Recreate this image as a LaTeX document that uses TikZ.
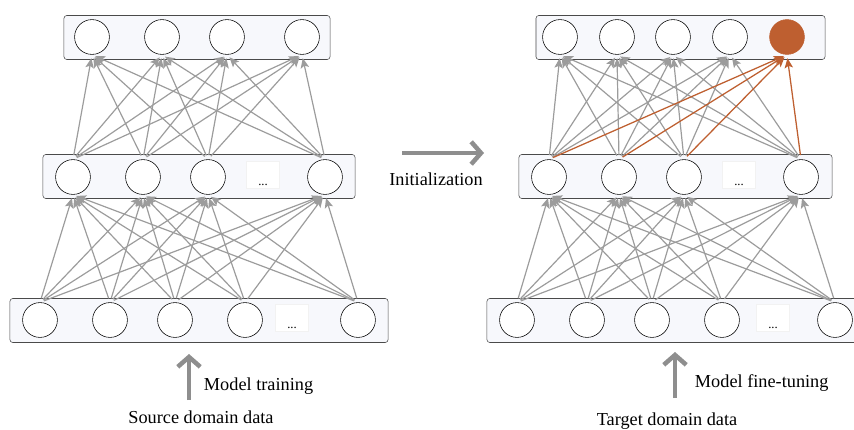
\documentclass[tikz,border=0pt]{standalone}
\usepackage{fontspec}
\setmainfont{Liberation Serif}
\usetikzlibrary{arrows.meta}
\definecolor{edgegray}{HTML}{9C9C9C}
\definecolor{arrowgray}{HTML}{8E8E8E}
\definecolor{boxline}{HTML}{4A4A4A}
\definecolor{boxfill}{HTML}{F7F8FC}
\definecolor{accent}{HTML}{BE5F30}

\begin{document}
\begin{tikzpicture}[x=0.025cm, y=-0.025cm, font=\fontsize{13}{15}\selectfont,
    layer/.style = {draw=boxline, fill=boxfill, rounded corners=2pt, minimum height=1.1cm, inner sep=0pt},
    unit/.style = {draw, circle, fill=white, minimum size=0.87cm, inner sep=0pt},
    gap/.style = {draw=black!5, fill=white, minimum width=0.82cm, text height=15pt, text depth=0pt, inner sep=2pt, font=\small},
    link/.style = {edgegray, line width=0.85pt, -{Stealth[length=7pt, width=6pt, inset=1.5pt]}, shorten <=3pt, shorten >=2.5pt},
    hot/.style = {link, accent, line width=0.9pt},
    bigarrow/.style = {arrowgray, line width=3.2pt, -{Straight Barb[length=7pt, width=16pt]}}]
    \clip (0,0) rectangle (854,429);

    \node[layer, minimum width=6.65cm] (ltop) at (197,37.5) {};
    \node[layer, minimum width=7.8cm] (lmid) at (199,176.5) {};
    \node[layer, minimum width=9.45cm] (lbot) at (199,320.5) {};
    \node[layer, minimum width=7.225cm] (rtop) at (680.5,37.5) {};
    \node[layer, minimum width=7.825cm] (rmid) at (675.5,176.5) {};
    \node[layer, minimum width=9.5cm] (rbot) at (677,320.5) {};

    \node[unit] (lt1) at (92,37) {};
    \node[unit] (lt2) at (162,37) {};
    \node[unit] (lt3) at (227,37) {};
    \node[unit] (lt4) at (302,37) {};
    \node[unit] (lm1) at (73,177) {};
    \node[unit] (lm2) at (143,177) {};
    \node[unit] (lm3) at (208,177) {};
    \node[gap] (lmdots) at (263,175) {...};
    \node[unit] (lm4) at (325,177) {};
    \node[unit] (lb1) at (40,320) {};
    \node[unit] (lb2) at (110,320) {};
    \node[unit] (lb3) at (175,320) {};
    \node[unit] (lb4) at (245,320) {};
    \node[gap] (lbdots) at (292,318) {...};
    \node[unit] (lb5) at (358,320) {};

    \node[unit] (rt1) at (560,37) {};
    \node[unit] (rt2) at (617,37) {};
    \node[unit] (rt3) at (673,37) {};
    \node[unit] (rt4) at (730,37) {};
    \node[unit, draw=accent, fill=accent] (rt5) at (787,37) {};
    \node[unit] (rm1) at (549,177) {};
    \node[unit] (rm2) at (619,177) {};
    \node[unit] (rm3) at (684,177) {};
    \node[gap] (rmdots) at (739,175) {...};
    \node[unit] (rm4) at (801,177) {};
    \node[unit] (rb1) at (517,320) {};
    \node[unit] (rb2) at (587,320) {};
    \node[unit] (rb3) at (652,320) {};
    \node[unit] (rb4) at (722,320) {};
    \node[gap] (rbdots) at (773,318) {...};
    \node[unit] (rb5) at (835,320) {};

    \foreach \i in {1,...,5}
        \foreach \j in {1,...,4} {
            \draw[link] (lb\i.north) -- (lm\j.south);
            \draw[link] (rb\i.north) -- (rm\j.south);
        }
    \foreach \i in {1,...,4}
        \foreach \j in {1,...,4} {
            \draw[link] (lm\i.north) -- (lt\j.south);
            \draw[link] (rm\i.north) -- (rt\j.south);
        }
    \foreach \i in {1,...,4}
        \draw[hot] (rm\i.north) -- (rt5.south);

    \coordinate (initfrom) at (402,153);
    \coordinate (initto) at (484,153);
    \draw[bigarrow] (initfrom) -- (initto);
    \node (init) at (436,179) {Initialization};

    \coordinate (srcfrom) at (189,400);
    \coordinate (srcto) at (189,354);
    \draw[bigarrow] (srcfrom) -- (srcto);
    \node[anchor=west] (train) at (199,386) {Model training};
    \node (src) at (201,417) {Source domain data};

    \coordinate (tgtfrom) at (675,398);
    \coordinate (tgtto) at (675,352);
    \draw[bigarrow] (tgtfrom) -- (tgtto);
    \node[anchor=west] (tune) at (690,383) {Model fine-tuning};
    \node (tgt) at (667,421) {Target domain data};
\end{tikzpicture}
\end{document}
